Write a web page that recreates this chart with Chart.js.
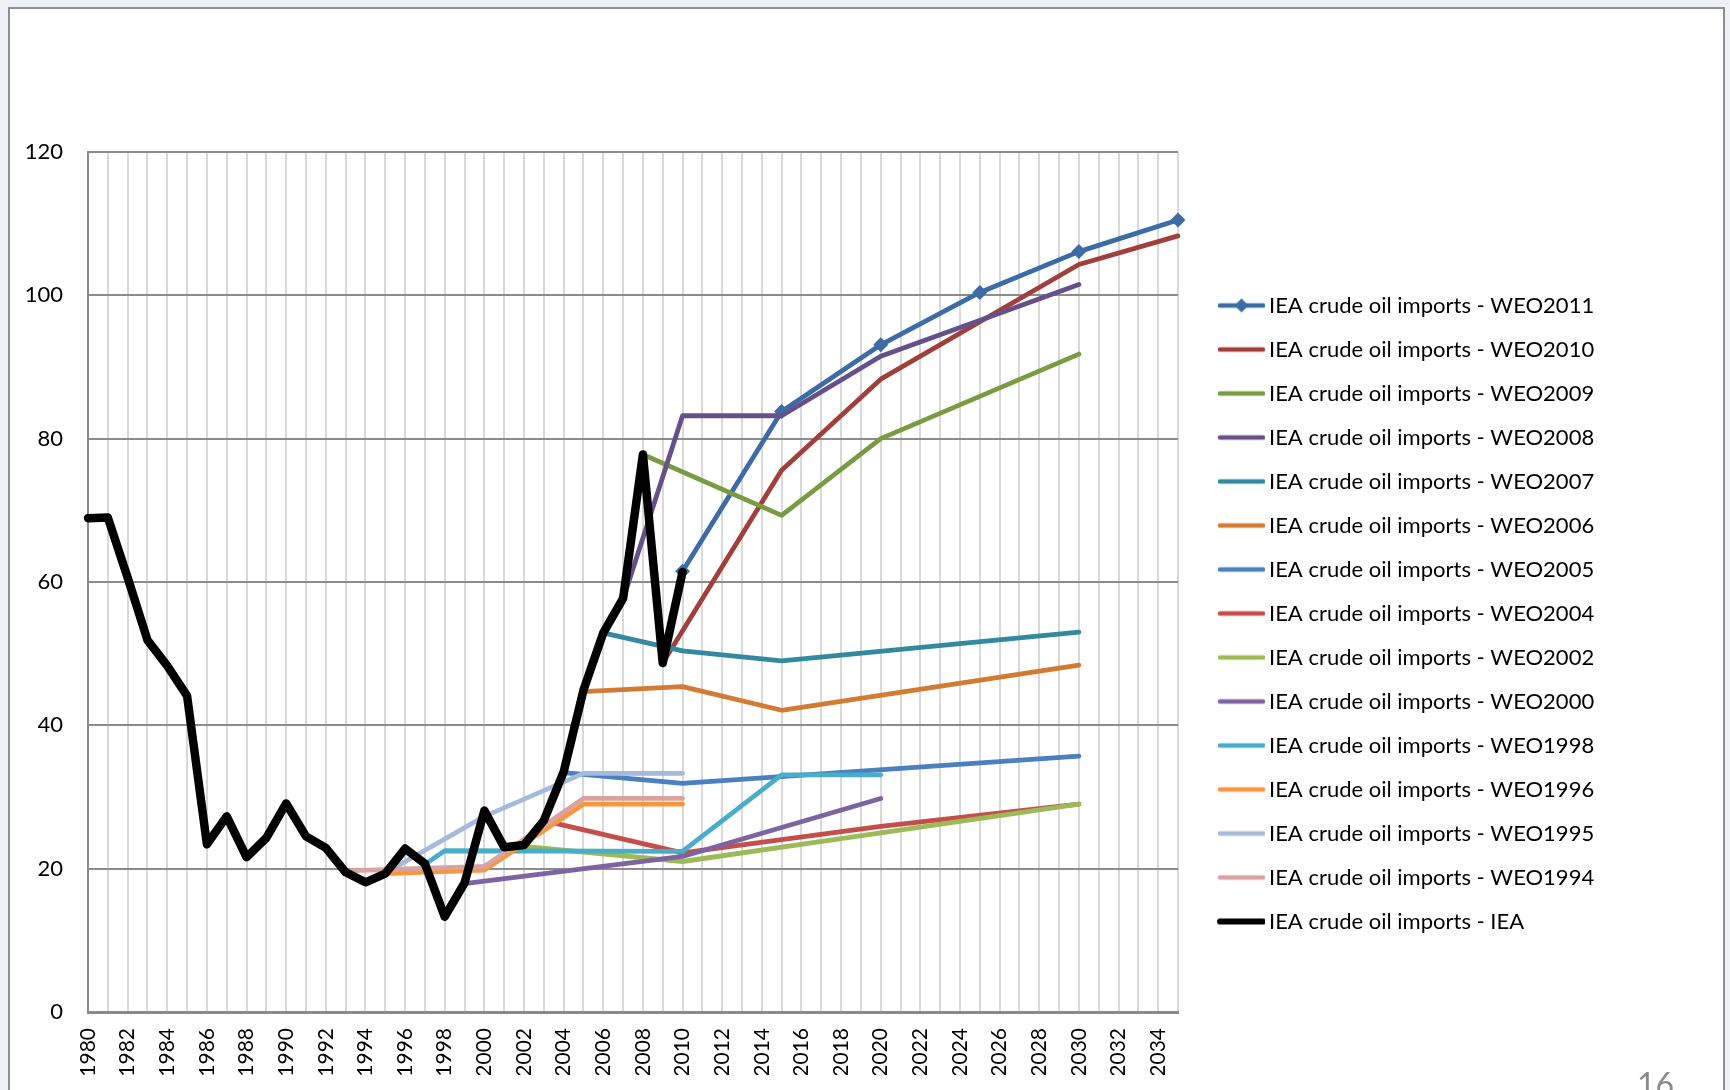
<!DOCTYPE html>
<html>
<head>
<meta charset="utf-8">
<title>IEA crude oil imports</title>
<script src="https://cdn.jsdelivr.net/npm/chart.js@4/dist/chart.umd.min.js"></script>
<style>
    body { margin: 0; background: #eff0f8; width: 1730px; height: 1090px; overflow: hidden; position: relative; }
    #slide { position: absolute; left: 8px; top: 7px; width: 1713px; height: 1100px; background: #ffffff;
             border-top: 2px solid #8f8f8f; border-left: 2px solid #8f8f8f; border-right: 2px solid #8f8f8f; }
    #oilChart { position: absolute; left: 0; top: 0; }
    #pageNo { position: absolute; left: 1637px; top: 1064px; font: 32px Lato, sans-serif; color: #8a8a8a; }
</style>
</head>
<body>
<div id="slide"></div>
<canvas id="oilChart" width="1730" height="1090"></canvas>
<div id="pageNo">16</div>
<script>
// Year axis, 1980 to 2035 (one category per year)
const years = [];
for (let y = 1980; y <= 2035; y++) years.push(String(y));

// Y axis ticks
const yTicks = [0, 20, 40, 60, 80, 100, 120];

// Historical imports (IEA), 1980-2010
const ieaYears = [1980, 1981, 1982, 1983, 1984, 1985, 1986, 1987, 1988, 1989, 1990, 1991, 1992, 1993, 1994, 1995,
                  1996, 1997, 1998, 1999, 2000, 2001, 2002, 2003, 2004, 2005, 2006, 2007, 2008, 2009, 2010];
const ieaValues = [68.9, 69.0, 60.6, 51.9, 48.3, 44.1, 23.4, 27.3, 21.6, 24.3, 29.1, 24.5, 22.9, 19.5, 18.1, 19.3,
                   22.8, 20.7, 13.3, 18.0, 28.1, 23.0, 23.3, 26.7, 33.5, 44.9, 52.9, 57.7, 77.8, 48.7, 61.4];

// WEO projections, each edition has its own years
const weo2011Years = [2010, 2015, 2020, 2025, 2030, 2035];
const weo2011Values = [61.5, 83.8, 93.1, 100.4, 106.1, 110.5];
const weo2010Years = [2009, 2015, 2020, 2030, 2035];
const weo2010Values = [48.7, 75.6, 88.3, 104.3, 108.3];
const weo2009Years = [2008, 2015, 2020, 2030];
const weo2009Values = [77.8, 69.3, 80.0, 91.8];
const weo2008Years = [2007, 2010, 2015, 2020, 2030];
const weo2008Values = [57.6, 83.2, 83.2, 91.5, 101.5];
const weo2007Years = [2006, 2010, 2015, 2030];
const weo2007Values = [52.9, 50.4, 49.0, 53.0];
const weo2006Years = [2005, 2010, 2015, 2030];
const weo2006Values = [44.7, 45.4, 42.1, 48.4];
const weo2005Years = [2004, 2010, 2030];
const weo2005Values = [33.4, 31.9, 35.7];
const weo2004Years = [2003, 2010, 2020, 2030];
const weo2004Values = [26.7, 22.2, 25.9, 29.0];
const weo2002Years = [2002, 2010, 2020, 2030];
const weo2002Values = [23.1, 21.0, 25.0, 29.0];
const weo2000Years = [1999, 2010, 2020];
const weo2000Values = [17.9, 21.7, 29.8];
const weo1998Years = [1997, 1998, 2010, 2015, 2020];
const weo1998Values = [20.6, 22.5, 22.4, 33.1, 33.1];
const weo1996Years = [1995, 2000, 2005, 2010];
const weo1996Values = [19.3, 19.8, 29.0, 29.0];
const weo1995Years = [1995, 2000, 2005, 2010];
const weo1995Values = [19.4, 27.3, 33.3, 33.3];
const weo1994Years = [1993, 2000, 2005, 2010];
const weo1994Values = [19.7, 20.3, 29.8, 29.8];

// Series list in legend order: label, years, values, colour
const seriesList = [
    ['IEA crude oil imports - WEO2011', weo2011Years, weo2011Values, '#3c6ba5'],
    ['IEA crude oil imports - WEO2010', weo2010Years, weo2010Values, '#a0403c'],
    ['IEA crude oil imports - WEO2009', weo2009Years, weo2009Values, '#7a9a43'],
    ['IEA crude oil imports - WEO2008', weo2008Years, weo2008Values, '#65508a'],
    ['IEA crude oil imports - WEO2007', weo2007Years, weo2007Values, '#33899e'],
    ['IEA crude oil imports - WEO2006', weo2006Years, weo2006Values, '#d27c33'],
    ['IEA crude oil imports - WEO2005', weo2005Years, weo2005Values, '#4a7fc0'],
    ['IEA crude oil imports - WEO2004', weo2004Years, weo2004Values, '#c34e4b'],
    ['IEA crude oil imports - WEO2002', weo2002Years, weo2002Values, '#9cbb58'],
    ['IEA crude oil imports - WEO2000', weo2000Years, weo2000Values, '#7e63a3'],
    ['IEA crude oil imports - WEO1998', weo1998Years, weo1998Values, '#48adc8'],
    ['IEA crude oil imports - WEO1996', weo1996Years, weo1996Values, '#f7963f'],
    ['IEA crude oil imports - WEO1995', weo1995Years, weo1995Values, '#a6bad9'],
    ['IEA crude oil imports - WEO1994', weo1994Years, weo1994Values, '#d9a3a1'],
    ['IEA crude oil imports - IEA', ieaYears, ieaValues, '#000000']
];

const FONT = 'Lato, "Open Sans", sans-serif';
const PLOT_RIGHT = 1178; // right edge of the plot area, legend follows it

// Small canvas used as the legend key: a line, with a diamond for the marked series
function legendIcon(color, thick, diamond) {
    const c = document.createElement('canvas');
    c.width = 72;
    c.height = 18;
    const g = c.getContext('2d');
    g.strokeStyle = color;
    g.lineWidth = thick;
    g.lineCap = 'round';
    g.beginPath();
    g.moveTo(27, 9);
    g.lineTo(70, 9);
    g.stroke();
    if (diamond) {
        g.fillStyle = color;
        g.beginPath();
        g.moveTo(48.5, 2);
        g.lineTo(55.5, 9);
        g.lineTo(48.5, 16);
        g.lineTo(41.5, 9);
        g.closePath();
        g.fill();
    }
    return c;
}

// Pushes the legend (and so the plot's right edge) to a fixed x position
const pinLegend = {
    id: 'pinLegend',
    beforeLayout(chart) {
        const pad = chart.options.layout.padding;
        if (chart.legend && chart.legend.width) {
            pad.right = Math.max(0, chart.width - PLOT_RIGHT - chart.legend.width);
        }
    }
};

document.addEventListener('DOMContentLoaded', () => {
    const ctx = document.getElementById('oilChart').getContext('2d');

    // Build one line dataset per series; IEA history gets the heavy black line
    const datasets = seriesList.map(([label, ys, vals, color], i) => {
        const isHistory = i === seriesList.length - 1;
        const marked = i === 0;
        return {
            label: label,
            data: ys.map((y, k) => ({ x: String(y), y: vals[k] })),
            borderColor: color,
            backgroundColor: color,
            borderWidth: isHistory ? 8.5 : 4.8,
            borderJoinStyle: 'round',
            borderCapStyle: 'round',
            pointStyle: 'rectRot',
            pointRadius: marked ? 7.5 : 0,
            pointHoverRadius: marked ? 7.5 : 0,
            pointBorderWidth: 0,
            tension: 0,
            fill: false,
            order: -i, // later series sit on top
            icon: legendIcon(color, isHistory ? 6 : 4.5, marked)
        };
    });

    const chart = new Chart(ctx, {
        type: 'line',
        data: { labels: years, datasets: datasets },
        plugins: [pinLegend],
        options: {
            responsive: false,
            animation: false,
            devicePixelRatio: 1,
            layout: { padding: { left: 0, top: 152, right: 113, bottom: 15 } },
            plugins: {
                tooltip: { enabled: false },
                legend: {
                    position: 'right',
                    align: 'center',
                    maxWidth: 600,
                    labels: {
                        usePointStyle: true,
                        pointStyleWidth: 58,
                        boxHeight: 18,
                        padding: 22,
                        color: '#000000',
                        font: { family: FONT, size: 22 },
                        sort: (a, b) => a.datasetIndex - b.datasetIndex,
                        generateLabels: chart => {
                            const items = Chart.defaults.plugins.legend.labels.generateLabels(chart);
                            items.forEach(item => {
                                item.pointStyle = chart.data.datasets[item.datasetIndex].icon;
                            });
                            return items;
                        }
                    }
                }
            },
            scales: {
                x: {
                    type: 'category',
                    offset: false,
                    afterFit: scale => { scale.height = 63; },
                    grid: { color: '#d9d9d9', lineWidth: 2, drawTicks: false },
                    border: { color: '#8a8a8a', width: 3 },
                    ticks: {
                        autoSkip: false,
                        minRotation: 90,
                        maxRotation: 90,
                        padding: 16,
                        color: '#000000',
                        font: { family: FONT, size: 21 },
                        callback: function (value) {
                            const label = this.getLabelForValue(value);
                            return Number(label) % 2 === 0 ? label : '';
                        }
                    }
                },
                y: {
                    min: yTicks[0],
                    max: yTicks[yTicks.length - 1],
                    afterFit: scale => { scale.width = 88; },
                    afterBuildTicks: scale => { scale.ticks = yTicks.map(v => ({ value: v })); },
                    grid: { color: '#8c8c8c', lineWidth: 2, drawTicks: false },
                    border: { color: '#8a8a8a', width: 2 },
                    ticks: {
                        padding: 25,
                        color: '#000000',
                        font: { family: FONT, size: 22 }
                    }
                }
            }
        }
    });
    // second pass so the padding uses the measured legend width
    chart.update();
});
</script>
</body>
</html>
